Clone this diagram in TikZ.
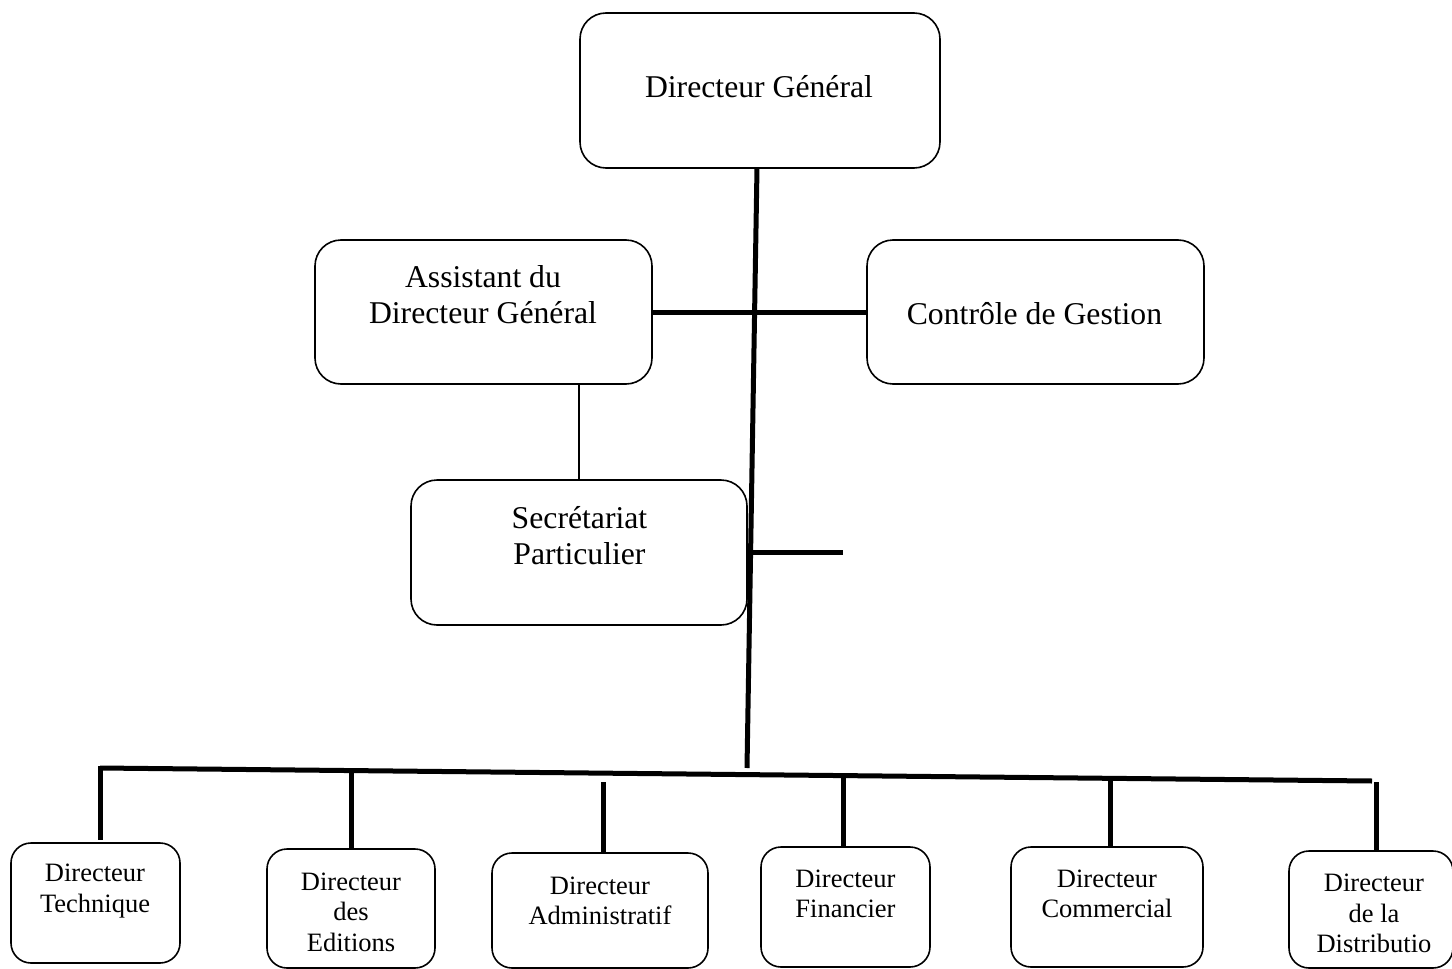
\documentclass[tikz,border=0pt]{standalone}
\usepackage{fontspec}
\setmainfont{Liberation Serif}
\begin{document}
\begin{tikzpicture}[x=1pt,y=-1pt,
  box/.style={draw, line width=1.6pt, rounded corners=26pt, inner sep=0pt, outer sep=0pt},
  sbox/.style={draw, line width=1.6pt, rounded corners=20pt, inner sep=0pt, outer sep=0pt},
  bigtxt/.style={align=center, inner sep=0pt, font=\fontsize{31.7}{36.5}\selectfont},
  smalltxt/.style={align=center, inner sep=0pt, font=\fontsize{26.5}{30.5}\selectfont},
  thick line/.style={line width=5pt},
  thin line/.style={line width=1.5pt}]
\useasboundingbox (0,0) rectangle (1452,969);
% boxes
\node[box, minimum width=360pt, minimum height=155pt] (dg) at (760,90.5) {};
\node[box, minimum width=337pt, minimum height=144pt] (ast) at (483.5,312) {};
\node[box, minimum width=337pt, minimum height=144pt] (cg) at (1035.5,312) {};
\node[box, minimum width=336pt, minimum height=145pt] (sec) at (579,552.5) {};
\node[sbox, minimum width=169pt, minimum height=120pt] (tech) at (95.5,903) {};
\node[sbox, minimum width=168pt, minimum height=119pt] (edit) at (351,908.5) {};
\node[sbox, minimum width=216pt, minimum height=115pt] (adm) at (600,910.5) {};
\node[sbox, minimum width=169pt, minimum height=120pt] (fin) at (845.5,907) {};
\node[sbox, minimum width=192pt, minimum height=120pt] (com) at (1107,907) {};
\node[sbox, minimum width=164pt, minimum height=117pt] (dist) at (1371,909.5) {};
% texts
\node[bigtxt] (tdg) at (759,87) {Directeur Général};
\node[bigtxt] (tast) at (483,294.5) {Assistant du\\Directeur Général};
\node[bigtxt] (tcg) at (1034.5,314) {Contrôle de Gestion};
\node[bigtxt] (tsec) at (579.5,535.5) {Secrétariat\\Particulier};
\node[smalltxt] (ttech) at (95,891) {Directeur\\Technique};
\node[smalltxt] (tedit) at (351,912) {Directeur\\des\\Editions};
\node[smalltxt] (tadm) at (600,901) {Directeur\\Administratif};
\node[smalltxt] (tfin) at (845.5,894) {Directeur\\Financier};
\node[smalltxt] (tcom) at (1107,894) {Directeur\\Commercial};
\node[smalltxt] (tdist) at (1374,913.5) {Directeur\\de la\\Distributio};
% coordinates
\coordinate (hub) at (747,768);
\coordinate (busL) at (100,768);
\coordinate (busR) at (1372,781);
\coordinate (stubL) at (752,552);
\coordinate (stubR) at (843,552);
% connectors
\draw[thick line] ([xshift=-3pt]dg.south) -- (hub);
\draw[thick line] (ast.east) -- (cg.west);
\draw[thin line] (sec.north |- ast.south) -- (sec.north);
\draw[thick line] (stubL) -- (stubR);
\draw[thick line] (busL) -- (busR);
\draw[thick line] (100,766) -- (100,840);
\draw[thick line] (351,772) -- (edit.north);
\draw[thick line] (603,782) -- (adm.north -| 603,0);
\draw[thick line] (843,773) -- (fin.north -| 843,0);
\draw[thick line] (1110,779) -- (com.north -| 1110,0);
\draw[thick line] (1376,782) -- (dist.north -| 1376,0);
\end{tikzpicture}
\end{document}
